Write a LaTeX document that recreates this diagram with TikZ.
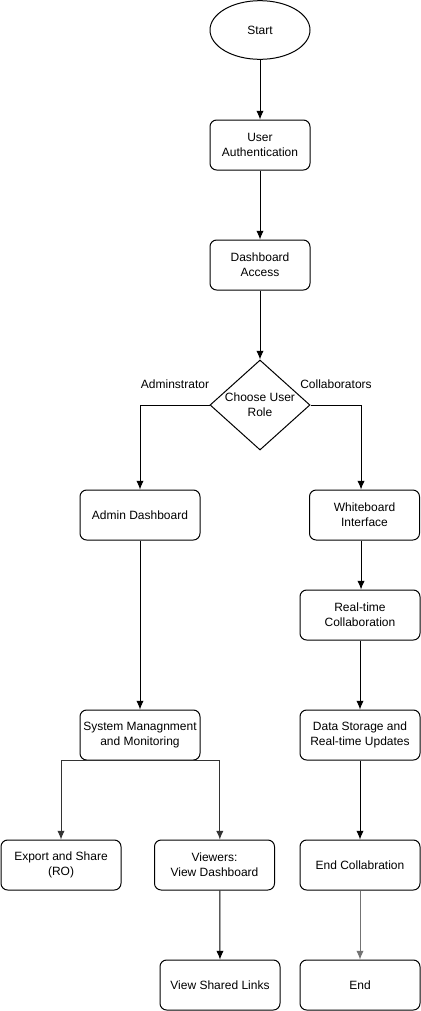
\documentclass[tikz,border=0pt]{standalone}
\usepackage{fontspec}
\setmainfont{Liberation Sans}
\usetikzlibrary{shapes.geometric,arrows.meta}

\begin{document}
\begin{tikzpicture}[x=0.75pt, y=-0.75pt,
    every node/.style={font=\fontsize{9}{11.5}\selectfont, align=center},
    box/.style={draw, rounded corners=5pt, line width=0.75pt, minimum width=90pt, minimum height=37.5pt, inner sep=0pt},
    arr/.style={-{Latex[length=6.5pt,width=5.5pt]}, line width=0.75pt}]
    % Fix the page to the size of the reference
    \useasboundingbox (0,0) rectangle (421,1011);

    % Start and the common steps
    \node[draw, ellipse, line width=0.75pt, minimum width=75pt, minimum height=44pt, inner sep=0pt] (start) at (260,30) {Start};
    \node[box, minimum width=75pt] (auth) at (260,145) {User\\Authentication};
    \node[box, minimum width=75pt] (dash) at (260,265) {Dashboard\\Access};

    % Decision on the role
    \node[draw, diamond, aspect=1.11, line width=0.75pt, minimum width=75pt, minimum height=67.5pt, inner sep=0pt] (role) at (260,405) {Choose User\\Role};
    \node (admlbl) at (175,384) {Adminstrator};
    \node (collbl) at (336,384) {Collaborators};

    % Administrator branch
    \node[box] (admin) at (140,515) {Admin Dashboard};
    \node[box] (sys) at (140,735) {System Managnment\\and Monitoring};
    \node[box] (exp) at (61,865) {Export and Share\\(RO)};
    \node[box] (view) at (214.5,865) {Viewers:\\View Dashboard};
    \node[box] (links) at (220,985) {View Shared Links};

    % Collaborator branch
    \node[box, minimum width=82.5pt] (wb) at (364.5,515) {Whiteboard\\Interface};
    \node[box] (rt) at (360,615) {Real-time\\Collaboration};
    \node[box] (store) at (360,735) {Data Storage and\\Real-time Updates};
    \node[box] (endc) at (360,865) {End Collabration};
    \node[box] (endn) at (360,985) {End};

    % Connectors
    \draw[arr] (start) -- (auth);
    \draw[arr] (auth) -- (dash);
    \draw[arr] (dash) -- (role);
    \draw[arr] (role.west) -| (admin.north);
    \draw[arr] (role.east) -| ([xshift=-2.6pt]wb.north);
    \draw[arr] (admin) -- (sys);
    \draw[arr, black!80] (sys.south) -| (exp.north);
    \draw[arr, black!80] (sys.south) -| ([xshift=4pt]view.north);
    \draw[arr] ([xshift=4pt]view.south) -- (links.north);
    \draw[arr] ([xshift=-2.6pt]wb.south) -- ([xshift=-2.6pt]wb.south |- rt.north);
    \draw[arr] (rt) -- (store);
    \draw[arr] (store) -- (endc);
    \draw[arr, black!55] (endc) -- (endn);
\end{tikzpicture}
\end{document}
